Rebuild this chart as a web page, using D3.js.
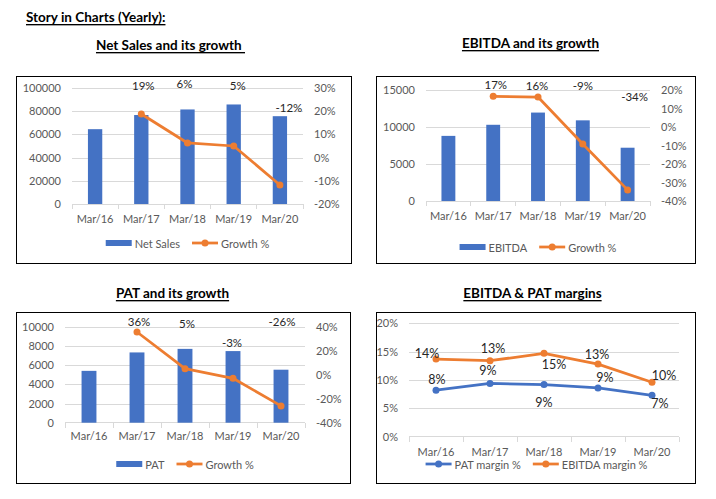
<!DOCTYPE html>
<html><head><meta charset="utf-8">
<script src="https://cdn.jsdelivr.net/npm/d3@7"></script>
<style>
body{margin:0;background:#fff;}
svg{display:block;}
</style></head><body>
<svg id="c" width="716" height="499"></svg>
<script>
// ---------- DATA ----------
const categories = ["Mar/16","Mar/17","Mar/18","Mar/19","Mar/20"];
const netSales = [64500, 76700, 81500, 85800, 75700];
const netSalesGrowth = [null, 0.188, 0.063, 0.050, -0.118];
const ebitda = [8800, 10300, 11950, 10900, 7200];
const ebitdaGrowth = [null, 0.166, 0.162, -0.092, -0.340];
const pat = [5400, 7320, 7690, 7460, 5520];
const patGrowth = [null, 0.356, 0.050, -0.030, -0.260];
const patMargin = [0.082, 0.094, 0.092, 0.086, 0.073];
const ebitdaMargin = [0.137, 0.134, 0.147, 0.128, 0.096];

const netSalesTicks = [0, 20000, 40000, 60000, 80000, 100000];
const netSalesGrowthTicks = [-0.2, -0.1, 0, 0.1, 0.2, 0.3];
const ebitdaTicks = [0, 5000, 10000, 15000];
const ebitdaGrowthTicks = [-0.4, -0.3, -0.2, -0.1, 0, 0.1, 0.2];
const patTicks = [0, 2000, 4000, 6000, 8000, 10000];
const patGrowthTicks = [-0.4, -0.2, 0, 0.2, 0.4];
const marginTicks = [0, 0.05, 0.10, 0.15, 0.20];

// ---------- STYLE ----------
const FONT = "Lato, 'Open Sans', sans-serif";
const FS_AXIS = 11, FS_LABEL = 11.5, FS_LABEL4 = 12.5, FS_TITLE = 13.5, FS_LEGEND = 11;
const C_AXIS = "#595959", C_GRID = "#d9d9d9", C_LABEL = "#262626";
const C_BLUE = "#4472c4", C_ORANGE = "#ed7d31";
const BAR_RATIO = 0.31;

const svg = d3.select("#c").attr("font-family", FONT);
const loc = d3.formatLocale({decimal: ".", thousands: ",", grouping: [3], currency: ["", ""], minus: "-"});
const pct = loc.format(".0%");
const num = loc.format("d");

function title(text, x, y, anchor) {
  svg.append("text").attr("x", x).attr("y", y)
    .attr("text-anchor", anchor).attr("dominant-baseline", "central")
    .attr("font-weight", "bold").attr("font-size", FS_TITLE).attr("fill", "#000")
    .style("text-decoration", "underline").text(text);
}

function frame(g, b) {
  g.append("rect").attr("x", b.x + 0.5).attr("y", b.y + 0.5).attr("width", b.w).attr("height", b.h)
    .attr("fill", "#fff").attr("stroke", "#000").attr("stroke-width", 1);
}

function gridAndAxes(g, o, x, yL, leftTicks, leftFmt) {
  const w = o.plot.r - o.plot.l;
  const grid = g.append("g").attr("transform", `translate(${o.plot.l},0)`)
    .call(d3.axisLeft(yL).tickValues(leftTicks.slice(1)).tickSize(-w).tickFormat(""));
  grid.select(".domain").remove();
  grid.selectAll("line").attr("stroke", C_GRID).attr("shape-rendering", "crispEdges");

  const la = g.append("g").attr("transform", `translate(${o.plot.l},0)`)
    .call(d3.axisLeft(yL).tickValues(leftTicks).tickSize(0).tickPadding(11).tickFormat(leftFmt));
  la.select(".domain").remove();
  la.attr("font-family", FONT).attr("font-size", FS_AXIS);
  la.selectAll("text").attr("fill", C_AXIS);

  const y0 = yL(leftTicks[0]);
  // category axis line
  g.append("line").attr("x1", o.plot.l).attr("x2", o.plot.r).attr("y1", y0).attr("y2", y0)
    .attr("stroke", C_GRID).attr("shape-rendering", "crispEdges");
  const bounds = categories.map(c => x(c)).concat([x.range()[1]]);
  g.append("g").selectAll("line").data(bounds).join("line")
    .attr("x1", d => d).attr("x2", d => d).attr("y1", y0).attr("y2", y0 + 5)
    .attr("stroke", C_GRID).attr("shape-rendering", "crispEdges");
  const xa = g.append("g").attr("transform", `translate(0,${y0})`)
    .call(d3.axisBottom(x).tickSize(0).tickPadding(o.xPad || 11));
  xa.select(".domain").remove();
  xa.attr("font-family", FONT).attr("font-size", FS_AXIS);
  xa.selectAll("text").attr("fill", C_AXIS);
}

function drawLine(g, x, y, values, color) {
  const pts = categories.map((c, i) => ({c, v: values[i]}));
  g.append("path").datum(pts)
    .attr("d", d3.line().defined(d => d.v != null).x(d => x(d.c) + x.bandwidth() / 2).y(d => y(d.v)))
    .attr("fill", "none").attr("stroke", color).attr("stroke-width", 2.75).attr("stroke-linejoin", "round");
  g.append("g").selectAll("circle").data(pts.filter(d => d.v != null)).join("circle")
    .attr("cx", d => x(d.c) + x.bandwidth() / 2).attr("cy", d => y(d.v)).attr("r", 3.5).attr("fill", color);
  return pts;
}

function dataLabels(g, x, y, pts, offsets, size) {
  g.append("g").selectAll("text").data(pts.map((d, i) => ({...d, off: offsets[i]})).filter(d => d.v != null)).join("text")
    .attr("x", d => x(d.c) + x.bandwidth() / 2 + d.off[0])
    .attr("y", d => y(d.v) + d.off[1])
    .attr("text-anchor", "middle").attr("dominant-baseline", "central")
    .attr("font-size", size).attr("fill", C_LABEL).text(d => pct(d.v));
}

function legend(g, items, cx, cy) {
  const SW = 26, GT = 3, GI = 12;
  const grp = g.append("g");
  let xp = 0;
  items.forEach(it => {
    const ig = grp.append("g").attr("transform", `translate(${xp},0)`);
    if (it.type === "bar") {
      ig.append("rect").attr("x", 0).attr("y", cy - 3).attr("width", SW).attr("height", 6).attr("fill", it.color);
    } else {
      ig.append("line").attr("x1", 0).attr("x2", SW).attr("y1", cy).attr("y2", cy)
        .attr("stroke", it.color).attr("stroke-width", 2.75);
      ig.append("circle").attr("cx", SW / 2).attr("cy", cy).attr("r", 3.5).attr("fill", it.color);
    }
    const t = ig.append("text").attr("x", SW + GT).attr("y", cy).attr("dominant-baseline", "central")
      .attr("font-size", FS_LEGEND).attr("fill", C_AXIS).text(it.label);
    xp += SW + GT + t.node().getComputedTextLength() + GI;
  });
  grp.attr("transform", `translate(${cx - (xp - GI) / 2},0)`);
}

function comboChart(o) {
  const g = svg.append("g");
  frame(g, o.box);
  const x = d3.scaleBand().domain(categories).range([o.plot.l, o.plot.r]);
  const yL = d3.scaleLinear().domain(d3.extent(o.leftTicks)).range([o.plot.b, o.plot.t]);
  const yR = d3.scaleLinear().domain(d3.extent(o.rightTicks)).range([o.plot.b, o.plot.t]);
  gridAndAxes(g, o, x, yL, o.leftTicks, num);

  const ra = g.append("g").attr("transform", `translate(${o.plot.r},0)`)
    .call(d3.axisRight(yR).tickValues(o.rightTicks).tickSize(0).tickPadding(11).tickFormat(pct));
  ra.select(".domain").remove();
  ra.attr("font-family", FONT).attr("font-size", FS_AXIS);
  ra.selectAll("text").attr("fill", C_AXIS);

  const bw = x.bandwidth() * BAR_RATIO;
  g.append("g").selectAll("rect").data(categories.map((c, i) => ({c, v: o.bars[i]}))).join("rect")
    .attr("x", d => x(d.c) + (x.bandwidth() - bw) / 2).attr("width", bw)
    .attr("y", d => yL(d.v)).attr("height", d => yL(0) - yL(d.v)).attr("fill", C_BLUE);

  const pts = drawLine(g, x, yR, o.growth, C_ORANGE);
  dataLabels(g, x, yR, pts, o.labelOff, FS_LABEL);
  legend(g, [{type: "bar", color: C_BLUE, label: o.barName}, {type: "line", color: C_ORANGE, label: "Growth %"}],
    (o.plot.l + o.plot.r) / 2, o.legendY);
}

function marginChart(o) {
  const g = svg.append("g");
  frame(g, o.box);
  const x = d3.scaleBand().domain(categories).range([o.plot.l, o.plot.r]);
  const y = d3.scaleLinear().domain(d3.extent(marginTicks)).range([o.plot.b, o.plot.t]);
  gridAndAxes(g, o, x, y, marginTicks, pct);
  const p1 = drawLine(g, x, y, patMargin, C_BLUE);
  const p2 = drawLine(g, x, y, ebitdaMargin, C_ORANGE);
  dataLabels(g, x, y, p1, o.patOff, FS_LABEL4);
  dataLabels(g, x, y, p2, o.ebitdaOff, FS_LABEL4);
  legend(g, [{type: "line", color: C_BLUE, label: "PAT margin %"}, {type: "line", color: C_ORANGE, label: "EBITDA margin %"}],
    o.legendX, o.legendY);
}

// ---------- TITLES ----------
title("Story in Charts (Yearly):", 26, 17, "start");
title("Net Sales and its growth\u00a0", 170.5, 45, "middle");
title("EBITDA and its growth", 530.5, 43, "middle");
title("PAT and its growth", 172.5, 293, "middle");
title("EBITDA & PAT margins", 532.5, 293, "middle");

// ---------- CHARTS ----------
comboChart({
  box: {x: 16, y: 76, w: 335, h: 187}, plot: {l: 72, r: 303, t: 88, b: 204},
  leftTicks: netSalesTicks, rightTicks: netSalesGrowthTicks,
  bars: netSales, growth: netSalesGrowth, barName: "Net Sales",
  labelOff: [null, [2, -28.5], [-3, -59], [4, -61], [9, -77]], legendY: 243
});
comboChart({
  box: {x: 376, y: 76, w: 319, h: 187}, plot: {l: 426, r: 650, t: 90, b: 201},
  leftTicks: ebitdaTicks, rightTicks: ebitdaGrowthTicks,
  bars: ebitda, growth: ebitdaGrowth, barName: "EBITDA",
  labelOff: [null, [2.6, -11.3], [-1, -12], [0, -59], [7, -93]], legendY: 247
});
comboChart({
  box: {x: 16, y: 312, w: 334, h: 171}, plot: {l: 65, r: 305, t: 326.7, b: 422.7},
  leftTicks: patTicks, rightTicks: patGrowthTicks,
  bars: pat, growth: patGrowth, barName: "PAT",
  labelOff: [null, [2, -10.3], [2, -45.7], [-1, -35.6], [1, -84.2]], legendY: 464, xPad: 10
});
marginChart({
  box: {x: 376, y: 312, w: 319, h: 171}, plot: {l: 409, r: 679, t: 323.3, b: 436.7},
  patOff: [[1, -11], [-2, -13.4], [0, 17.5], [7, -10.6], [8, 8]],
  ebitdaOff: [[-9, -5.7], [3, -12.4], [10, 11.6], [-1, -10.1], [12, -7]],
  legendX: 536.5, legendY: 464, xPad: 12
});
</script>
</body></html>
